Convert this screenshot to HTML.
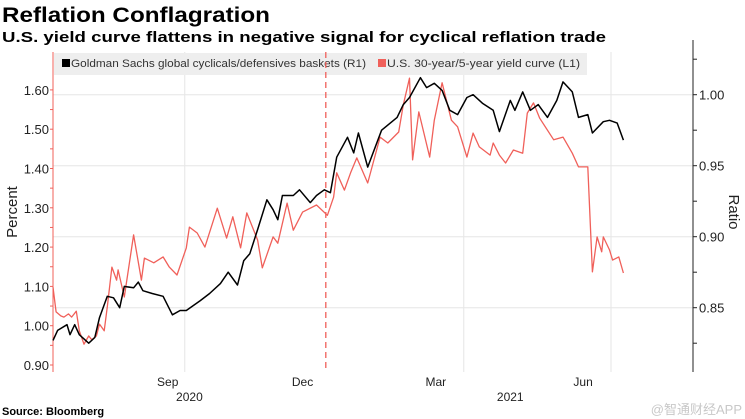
<!DOCTYPE html>
<html><head><meta charset="utf-8"><style>
html,body{margin:0;padding:0;background:#fff;}
svg{display:block;font-family:"Liberation Sans","DejaVu Sans",sans-serif;}
</style></head><body>
<svg id="chart" width="745" height="419" viewBox="0 0 745 419" xmlns="http://www.w3.org/2000/svg">
<text x="2" y="22" font-size="21" font-weight="bold" textLength="268" lengthAdjust="spacingAndGlyphs">Reflation Conflagration</text>
<text x="2" y="42" font-size="15" font-weight="bold" textLength="604" lengthAdjust="spacingAndGlyphs">U.S. yield curve flattens in negative signal for cyclical reflation trade</text>
<g id="grid"></g>
<rect x="54" y="53" width="533" height="22" fill="#eeeeee"/>
<rect x="62" y="59" width="8" height="8" fill="#000"/>
<text x="71" y="67" font-size="11" fill="#333" textLength="295" lengthAdjust="spacingAndGlyphs">Goldman Sachs global cyclicals/defensives baskets (R1)</text>
<rect x="378" y="59" width="8" height="8" fill="#f0605a"/>
<text x="387" y="67" font-size="11" fill="#333" textLength="193" lengthAdjust="spacingAndGlyphs">U.S. 30-year/5-year yield curve (L1)</text>
<g id="axes"></g>
<g id="series"></g>
<text transform="translate(17,212) rotate(-90)" text-anchor="middle" font-size="15" fill="#222">Percent</text>
<text transform="translate(729,212) rotate(90)" text-anchor="middle" font-size="15" fill="#222">Ratio</text>
<text x="2" y="415" font-size="11" font-weight="bold">Source: Bloomberg</text>
<text x="742" y="414" text-anchor="end" font-size="13" fill="#c8c8c8" font-family="'Liberation Sans','Noto Sans CJK SC',sans-serif">@智通财经APP</text>
</svg>
<script>
// Red series: U.S. 30y/5y yield curve (left axis, percent). Days since start.
const redDays = [0,2,5,7,10,12,15,17,20,23,25,28,30,33,35,38,41,42,46,52,57,59,65,71,75,80,86,88,93,98,106,112,116,121,125,132,135,142,145,151,155,161,170,177,181,183,188,192,196,203,211,216,223,226,230,232,236,243,246,251,257,261,267,271,275,282,284,288,292,297,303,306,310,314,323,329,335,339,345,348,351,354,355,359,361,365,368];
const redValues = [1.098,1.035,1.025,1.022,1.030,1.022,1.037,0.987,0.953,0.974,0.964,0.974,1.004,0.987,1.048,1.149,1.116,1.142,1.073,1.231,1.116,1.172,1.160,1.175,1.149,1.129,1.198,1.251,1.236,1.200,1.299,1.223,1.277,1.198,1.287,1.218,1.147,1.226,1.210,1.312,1.243,1.289,1.307,1.281,1.327,1.389,1.345,1.389,1.427,1.363,1.480,1.465,1.493,1.562,1.630,1.422,1.544,1.429,1.523,1.618,1.523,1.506,1.429,1.490,1.455,1.434,1.465,1.434,1.414,1.447,1.439,1.541,1.567,1.528,1.473,1.480,1.439,1.404,1.404,1.137,1.226,1.188,1.226,1.193,1.167,1.175,1.134];
// Black series: GS cyclicals/defensives (right axis, ratio).
const blackDays = [0,3,9,11,14,17,23,27,30,35,39,43,46,52,55,58,64,71,77,82,86,95,101,108,113,119,123,127,132,138,142,145,148,155,159,166,170,175,179,183,190,194,197,203,212,222,226,230,237,241,246,251,256,261,267,271,277,284,288,295,298,303,308,313,319,325,329,335,339,345,348,355,359,364,368];
const blackValues = [0.827,0.834,0.838,0.831,0.838,0.831,0.825,0.829,0.843,0.858,0.857,0.850,0.865,0.864,0.868,0.862,0.860,0.858,0.845,0.848,0.848,0.855,0.860,0.867,0.875,0.866,0.883,0.888,0.905,0.926,0.919,0.912,0.929,0.929,0.933,0.924,0.929,0.933,0.931,0.956,0.970,0.959,0.973,0.949,0.975,0.984,0.993,0.998,1.012,1.005,1.008,1.003,0.989,0.986,0.998,1.000,0.994,0.989,0.974,0.996,0.989,1.002,0.989,0.993,0.984,0.996,1.009,1.002,0.984,0.986,0.973,0.981,0.982,0.980,0.968];
const leftTicks = [0.90,1.00,1.10,1.20,1.30,1.40,1.50,1.60];
const leftTickLabels = ["0.90","1.00","1.10","1.20","1.30","1.40","1.50","1.60"];
const rightTicks = [0.85,0.90,0.95,1.00];
const rightTickLabels = ["0.85","0.90","0.95","1.00"];
const monthLabels = ["Sep","Dec","Mar","Jun"];
const monthLabelDays = [74,161,247,342];
const quarterGridDays = [85,176,265,360];
const yearLabels = ["2020","2021"];
const yearLabelDays = [88,295];
const markerDay = 176;

const NS="http://www.w3.org/2000/svg";
const X0=53, X1=693, Y0=52, Y1=372;
const xScale = d => X0 + d*1.55;
const yLeft = v => 365 - (v-0.90)/0.1*39.3;
const yRight = v => 94.7 + (1.00-v)/0.05*71;
function mk(tag, attrs, parent, text){
  const e=document.createElementNS(NS,tag);
  for(const k in attrs) e.setAttribute(k,attrs[k]);
  if(text!==undefined) e.textContent=text;
  parent.appendChild(e); return e;
}
const grid=document.getElementById('grid'), axes=document.getElementById('axes'), series=document.getElementById('series');
// horizontal gridlines follow right axis
rightTicks.forEach(v=>{
  const l=mk('line',{x1:X0,x2:X1,y1:yRight(v),y2:yRight(v),stroke:'#e6e6e6','stroke-width':1},grid);
  
  
});
quarterGridDays.forEach((d,i)=>{
  if(d===markerDay) return;
  const l=mk('line',{x1:xScale(d),x2:xScale(d),y1:Y0,y2:Y1,stroke:'#e6e6e6','stroke-width':1},grid);
  
  
});
// dashed marker
const dm=mk('line',{x1:xScale(markerDay),x2:xScale(markerDay),y1:Y0,y2:Y1,stroke:'#f0605a','stroke-width':1.3,'stroke-dasharray':'6,4'},axes);


// left axis (red)
const la=mk('line',{x1:X0,x2:X0,y1:Y0,y2:Y1,stroke:'#f0605a','stroke-width':1},axes);


for(let v=0.90; v<=1.65; v+=0.05){
  const y=yLeft(v);
  const t=mk('line',{x1:X0-3,x2:X0,y1:y,y2:y,stroke:'#f0605a','stroke-width':1},axes);
  
  
}
leftTicks.forEach((v,i)=>{
  const t=mk('text',{x:X0-4,y:yLeft(v)+5,'text-anchor':'end','font-size':13,fill:'#222'},axes,leftTickLabels[i]);
  
  
});
// right axis (black)
const ra=mk('line',{x1:X1,x2:X1,y1:Y0-12,y2:Y1,stroke:'#222','stroke-width':1},axes);


for(let v=0.825; v<=1.026; v+=0.025){
  const y=yRight(v);
  const t=mk('line',{x1:X1,x2:X1+4,y1:y,y2:y,stroke:'#222','stroke-width':1},axes);
  
  
}
rightTicks.forEach((v,i)=>{
  const t=mk('text',{x:X1+6,y:yRight(v)+5,'font-size':13,fill:'#222'},axes,rightTickLabels[i]);
  
  
});
monthLabels.forEach((m,i)=>{
  const t=mk('text',{x:xScale(monthLabelDays[i]),y:386,'text-anchor':'middle','font-size':12,fill:'#222'},axes,m);
  
  
});
yearLabels.forEach((m,i)=>{
  const t=mk('text',{x:xScale(yearLabelDays[i]),y:401,'text-anchor':'middle','font-size':12,fill:'#222'},axes,m);
  
  
});
// series
const redPts=redDays.map((d,i)=>xScale(d).toFixed(1)+','+yLeft(redValues[i]).toFixed(1)).join(' ');
const rl=mk('polyline',{points:redPts,fill:'none',stroke:'#f0605a','stroke-width':1.3,'stroke-linejoin':'round'},series);


const blackPts=blackDays.map((d,i)=>xScale(d).toFixed(1)+','+yRight(blackValues[i]).toFixed(1)).join(' ');
const bl=mk('polyline',{points:blackPts,fill:'none',stroke:'#000','stroke-width':1.5,'stroke-linejoin':'round'},series);


</script>
</body></html>
